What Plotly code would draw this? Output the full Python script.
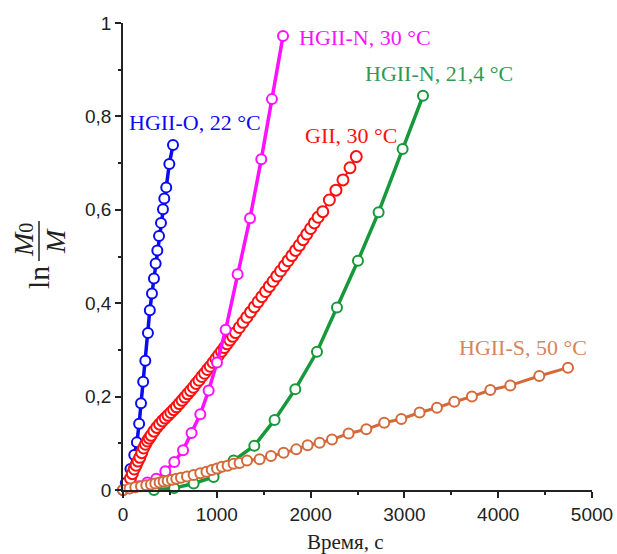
import plotly.graph_objects as go

# ---- data ----
blue_x = [0, 30, 80, 120, 148, 172, 192, 215, 238, 266, 286, 309, 330, 348, 366, 384, 405, 426, 440, 461, 494, 533]
blue_y = [0, 0.015, 0.045, 0.075, 0.102, 0.142, 0.186, 0.232, 0.277, 0.336, 0.385, 0.421, 0.453, 0.485, 0.513,
          0.544, 0.572, 0.601, 0.624, 0.648, 0.698, 0.739]

red_x = [80, 100, 120, 140, 160, 180, 200, 220, 240, 260, 280, 300,
         330, 360, 390, 420, 450, 480, 510, 540, 570, 600, 630, 660, 690, 720, 750, 780, 810, 840, 870,
         900, 930, 960, 990, 1020, 1050, 1080, 1110, 1140, 1170, 1200,
         1240, 1280, 1320, 1360, 1400, 1440, 1480, 1520, 1560, 1600, 1640, 1680, 1720, 1760, 1800, 1840,
         1880, 1920, 1960, 2000, 2040, 2080,
         2130, 2200, 2270, 2345, 2420, 2487]
red_y = [0.025, 0.035, 0.045, 0.053, 0.062, 0.070, 0.080, 0.090, 0.098, 0.105, 0.111, 0.117,
         0.126, 0.134, 0.141, 0.148, 0.154, 0.160, 0.166, 0.172, 0.178, 0.185, 0.192, 0.199, 0.206, 0.213,
         0.220, 0.228, 0.235, 0.243, 0.250, 0.258, 0.265, 0.273, 0.281, 0.289, 0.297, 0.305, 0.313, 0.321,
         0.329, 0.337,
         0.348, 0.359, 0.370, 0.381, 0.392, 0.403, 0.414, 0.425, 0.436, 0.447, 0.458, 0.469, 0.480, 0.491,
         0.502, 0.513, 0.524, 0.536, 0.548, 0.560, 0.572, 0.584,
         0.596, 0.621, 0.642, 0.664, 0.690, 0.714]

mag_x = [170, 260, 355, 451, 547, 640, 731, 824, 913, 1002, 1094, 1222, 1354, 1474, 1588, 1706]
mag_y = [0.008, 0.016, 0.024, 0.040, 0.060, 0.085, 0.122, 0.162, 0.213, 0.273, 0.343, 0.462, 0.582,
         0.708, 0.837, 0.972]

green_x = [330, 545, 753, 966, 1179, 1400, 1616, 1837, 2068, 2281, 2505, 2725, 2981, 3198]
green_y = [0.0, 0.004, 0.014, 0.028, 0.063, 0.095, 0.150, 0.216, 0.296, 0.391, 0.491, 0.595, 0.730, 0.844]

orange_x = [0, 70, 131, 192, 248, 298, 344, 390, 433, 476, 522, 568, 618, 682, 753, 824, 890, 946, 1002,
            1055, 1115, 1179, 1243, 1322, 1456, 1578, 1712, 1847, 1968, 2096, 2228, 2405, 2594, 2785,
            2967, 3162, 3347, 3532, 3720, 3916, 4129, 4438, 4744]
orange_y = [0, 0.003, 0.006, 0.008, 0.010, 0.012, 0.014, 0.016, 0.018, 0.020, 0.022, 0.024, 0.026, 0.029,
            0.032, 0.036, 0.039, 0.043, 0.046, 0.050, 0.052, 0.056, 0.058, 0.063, 0.066, 0.073, 0.080,
            0.087, 0.096, 0.101, 0.108, 0.121, 0.130, 0.144, 0.152, 0.166, 0.176, 0.189, 0.200, 0.214,
            0.224, 0.244, 0.262]

labels = ["HGII-O, 22 °C", "GII, 30 °C", "HGII-N, 30 °C", "HGII-N, 21,4 °C", "HGII-S, 50 °C"]
x_tickvals = [0, 1000, 2000, 3000, 4000, 5000]
x_ticktext = ["0", "1000", "2000", "3000", "4000", "5000"]
y_tickvals = [0, 0.2, 0.4, 0.6, 0.8, 1.0]
y_ticktext = ["0", "0,2", "0,4", "0,6", "0,8", "1"]

BLUE = "#0a0af5"
RED = "#ff1010"
MAG = "#ff10ff"
GREEN = "#17983a"
ORANGE = "#d46a3a"

W, H = 617, 554
L, R, T, B = 123, 25, 23, 64
PW, PH = W - L - R, H - T - B


def px(x):
    return (x - L) / PW


def py(y):
    return (H - B - y) / PH


fig = go.Figure()


def add(xs, ys, color, lw, ms):
    fig.add_trace(go.Scatter(
        x=xs, y=ys, mode="lines+markers", cliponaxis=False,
        line=dict(color=color, width=lw),
        marker=dict(symbol="circle", size=ms, color="white", line=dict(color=color, width=2)),
        showlegend=False))


add(blue_x, blue_y, BLUE, 3.5, 10)
add(red_x, red_y, RED, 2, 11)
add(mag_x, mag_y, MAG, 3.5, 10)
add(green_x, green_y, GREEN, 3.5, 10)
add(orange_x, orange_y, ORANGE, 3, 10)

serif = "Liberation Serif"
ann = [
    (labels[0], 127, 123, BLUE),
    (labels[1], 303, 135, RED),
    (labels[2], 297, 37, MAG),
    (labels[3], 363, 73, "#2f9a55"),
    (labels[4], 457, 347, "#d7845d"),
]
annotations = []
for text, x, y, c in ann:
    annotations.append(dict(text=text, x=px(x), y=py(y), xref="paper", yref="paper",
                            xanchor="left", yanchor="middle", showarrow=False,
                            font=dict(family=serif, size=22, color=c)))

# x axis title
annotations.append(dict(text="Время, с", x=px(345), y=py(542), xref="paper", yref="paper",
                        xanchor="center", yanchor="middle", showarrow=False,
                        font=dict(family=serif, size=21, color="#222")))
# y axis title: ln (M0 / M)
annotations.append(dict(text="ln", x=px(38), y=py(278), xref="paper", yref="paper",
                        xanchor="center", yanchor="middle", textangle=-90, showarrow=False,
                        font=dict(family=serif, size=30, color="#222")))
annotations.append(dict(text="<i>M</i><span style=\"font-size:20px\">0</span>", x=px(24), y=py(240),
                        xref="paper", yref="paper",
                        xanchor="center", yanchor="middle", textangle=-90, showarrow=False,
                        font=dict(family=serif, size=28, color="#222")))
annotations.append(dict(text="<i>M</i>", x=px(55), y=py(241), xref="paper", yref="paper",
                        xanchor="center", yanchor="middle", textangle=-90, showarrow=False,
                        font=dict(family=serif, size=28, color="#222")))

shapes = [dict(type="line", xref="paper", yref="paper", x0=px(39), x1=px(39), y0=py(221), y1=py(261),
               line=dict(color="#222", width=1.5))]

axis_common = dict(showline=True, linecolor="#222", linewidth=1.5, ticks="outside", ticklen=6,
                   tickwidth=1.5, tickcolor="#222", showgrid=False, zeroline=False,
                   tickfont=dict(family="Liberation Sans", size=19, color="#222"))

fig.update_layout(
    width=W, height=H, margin=dict(l=L, r=R, t=T, b=B, autoexpand=False),
    paper_bgcolor="white", plot_bgcolor="white",
    xaxis=dict(range=[0, 5000], tickvals=x_tickvals, ticktext=x_ticktext,
               minor=dict(ticks="outside", ticklen=3.5, tickwidth=1.5, tickcolor="#222", dtick=500,
                          tick0=0, showgrid=False),
               **axis_common),
    yaxis=dict(range=[0, 1], tickvals=y_tickvals, ticktext=y_ticktext,
               minor=dict(ticks="outside", ticklen=3.5, tickwidth=1.5, tickcolor="#222", dtick=0.1,
                          tick0=0, showgrid=False),
               **axis_common),
    annotations=annotations, shapes=shapes,
)

fig.write_html("out.html", config={"displayModeBar": False},
               post_script="document.body.style.margin='0';document.body.style.overflow='hidden';")
